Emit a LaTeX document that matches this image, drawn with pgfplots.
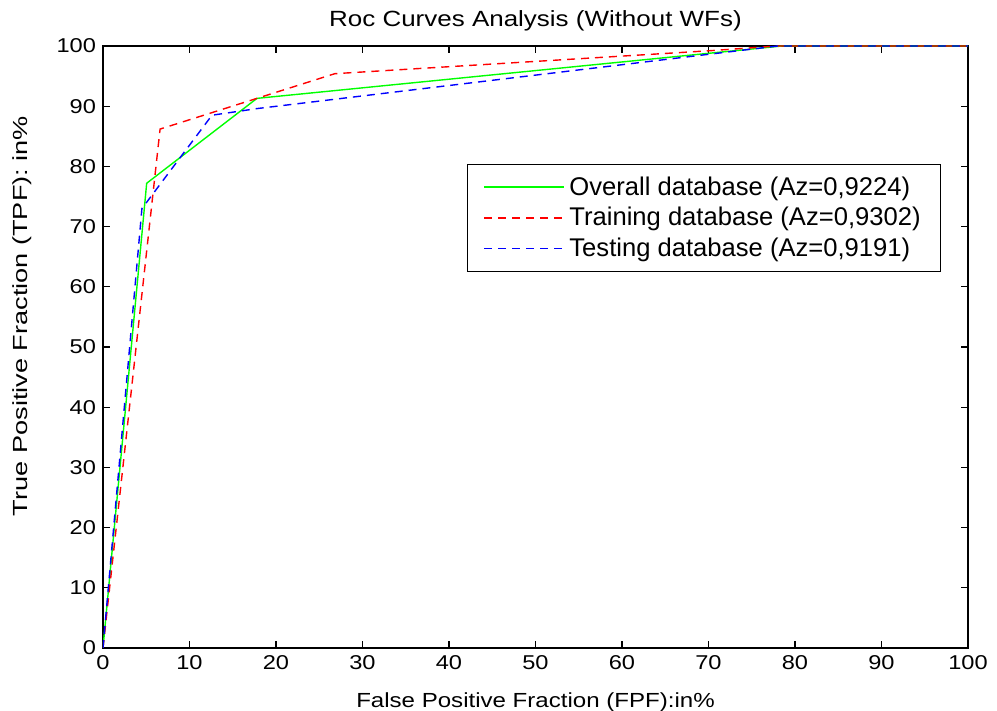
\documentclass[border=0pt]{standalone}
\usepackage{fontspec}
\setmainfont{Liberation Sans}
\newfontfamily\wide[FakeStretch=1.18]{Liberation Sans}
\newfontfamily\wider[FakeStretch=1.33]{Liberation Sans}
\usepackage{pgfplots}
\pgfplotsset{compat=1.18}
\definecolor{mgreen}{RGB}{0,255,0}
\definecolor{mred}{RGB}{255,0,0}
\definecolor{mblue}{RGB}{0,0,255}
\begin{document}
\begin{tikzpicture}
\useasboundingbox (-51.5pt,-31.5pt) rectangle (447pt,324pt);
\begin{axis}[
  at={(0,0)}, anchor=south west,
  scale only axis, width=432.5pt, height=301pt,
  xmin=0, xmax=100, ymin=0, ymax=100,
  xtick={0,10,...,100}, ytick={0,10,...,100},
  tick align=inside, major tick length=3.5pt,
  xtick pos=both, ytick pos=both,
  axis line style={line width=0.8pt},
  tick style={line width=0.6pt, black},
  /pgf/number format/assume math mode=true,
  tick label style={font=\wide\fontsize{10}{12}\selectfont},
  title={Roc Curves Analysis (Without WFs)},
  title style={font=\wide\fontsize{11}{13}\selectfont, yshift=-2pt},
  xlabel={False Positive Fraction (FPF):in\%},
  ylabel={True Positive Fraction (TPF): in\%},
  xlabel style={font=\wide\fontsize{10.2}{12}\selectfont, yshift=-5pt},
  ylabel style={font=\wider\fontsize{10.2}{12}\selectfont, yshift=5.5pt, xshift=15.5pt},
  legend style={at={(0.4208,0.804)}, anchor=north west, draw=black, line width=0.6pt,
    font=\fontsize{12.8}{15}\selectfont, row sep=0.5pt, inner xsep=8pt, inner ysep=4pt},
  legend cell align=left,
  legend image code/.code={\draw[#1, line width=0.9pt] (0pt,0pt) -- (40pt,0pt);},
]
\addplot[mgreen, line width=0.7pt] coordinates {(0,0) (5.05,77.2) (17.8,91.3) (78.5,100) (100,100)};
\addlegendentry{Overall database (Az=0,9224)}
\addplot[mred, line width=0.7pt, dash pattern=on 4pt off 3pt] coordinates {(0,0) (6.6,86.2) (26.8,95.4) (70,99.2) (78,100) (100,100)};
\addlegendentry{Training database (Az=0,9302)}
\addplot[mblue, line width=0.7pt, dash pattern=on 4pt off 3pt] coordinates {(0,0) (4.5,73) (12.6,88.5) (17.8,89.6) (78,100) (100,100)};
\addlegendentry{Testing database (Az=0,9191)}
\end{axis}
\end{tikzpicture}
\end{document}
